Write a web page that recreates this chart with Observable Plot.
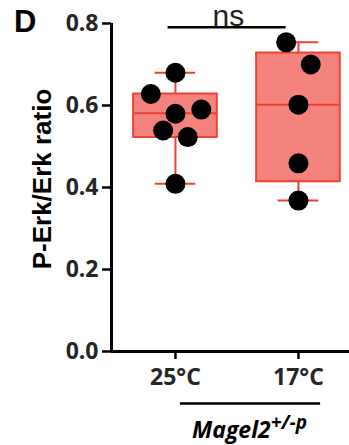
<!DOCTYPE html>
<html>
<head>
<meta charset="utf-8">
<script src="https://cdn.jsdelivr.net/npm/d3@7"></script>
<script src="https://cdn.jsdelivr.net/npm/@observablehq/plot@0.6"></script>
<style>
  html, body { margin: 0; padding: 0; background: #fff; }
  #chart svg [aria-label*="axis"] path { stroke-width: 2.5px; stroke: #000; }
</style>
</head>
<body>
<div id="chart"></div>
<script>
// ---- data ----
const categories = ["25°C", "17°C"];
const values25 = [0.680, 0.628, 0.580, 0.590, 0.539, 0.523, 0.409];
const jitter25 = [0, -0.2, 0, 0.21, -0.1, 0.1, 0];
const values17 = [0.754, 0.700, 0.602, 0.459, 0.368];
const jitter17 = [-0.1, 0.1, 0, 0, 0];
const boxLow    = [0.409, 0.368];
const boxQ1     = [0.522, 0.414];
const boxMedian = [0.581, 0.602];
const boxQ3     = [0.628, 0.728];
const boxHigh   = [0.680, 0.754];
const yTicks = [0, 0.2, 0.4, 0.6, 0.8];
const yLabel = "P-Erk/Erk ratio";
const sigLabel = "ns";
const panelLabel = "D";
const groupLabel = "Magel2";
const groupSup = "+/-p";

// ---- build tables ----
const points = [
  ...values25.map((v, i) => ({g: 1, x: 1 + jitter25[i], y: v})),
  ...values17.map((v, i) => ({g: 2, x: 2 + jitter17[i], y: v}))
];
const boxes = categories.map((c, i) => ({
  i: i + 1, lo: boxLow[i], q1: boxQ1[i], med: boxMedian[i], q3: boxQ3[i], hi: boxHigh[i]
}));

const boxHalf = 0.34, capHalf = 0.165;
const fillC = "#F4837D", strokeC = "#EE4035";

const plot = Plot.plot({
  width: 349,
  height: 445,
  marginLeft: 111,
  marginRight: 0,
  marginTop: 23,
  marginBottom: 94,
  style: {fontFamily: "Open Sans", fontSize: "23px", fontWeight: "bold", color: "#262626", background: "#fff", overflow: "visible"},
  x: {type: "linear", domain: [0.48, 2.415], ticks: [1, 2], tickFormat: d => categories[d - 1], tickSize: 8, tickPadding: 9, label: null},
  y: {domain: [0, 0.8], ticks: yTicks, tickFormat: d3.format(".1f"), tickSize: 9, tickPadding: 4, label: null},
  marks: [
    // axis lines
    Plot.ruleX([0.48], {y1: 0, y2: 0.8, stroke: "#000", strokeWidth: 3}),
    Plot.ruleY([0], {x1: 0.48, x2: 2.415, stroke: "#000", strokeWidth: 3}),
    // whiskers
    Plot.ruleX(boxes, {x: "i", y1: "q3", y2: "hi", stroke: strokeC, strokeWidth: 2}),
    Plot.ruleX(boxes, {x: "i", y1: "lo", y2: "q1", stroke: strokeC, strokeWidth: 2}),
    Plot.ruleY(boxes, {y: "hi", x1: d => d.i - capHalf, x2: d => d.i + capHalf, stroke: strokeC, strokeWidth: 2}),
    Plot.ruleY(boxes, {y: "lo", x1: d => d.i - capHalf, x2: d => d.i + capHalf, stroke: strokeC, strokeWidth: 2}),
    // boxes
    Plot.rect(boxes, {x1: d => d.i - boxHalf, x2: d => d.i + boxHalf, y1: "q1", y2: "q3", fill: fillC, stroke: strokeC, strokeWidth: 2}),
    Plot.ruleY(boxes, {y: "med", x1: d => d.i - boxHalf, x2: d => d.i + boxHalf, stroke: strokeC, strokeWidth: 2}),
    // points
    Plot.dot(points, {x: "x", y: "y", r: 10, fill: "#000", stroke: "none"}),
    // significance bracket
    Plot.ruleY([0.791], {x1: 0.94, x2: 1.9, stroke: "#000", strokeWidth: 2.5}),
    Plot.text([sigLabel], {x: 1.43, y: 0.8185, text: d => d, fontFamily: "Liberation Sans", fontWeight: "normal", fontSize: 30, fill: "#222", lineAnchor: "middle"}),
    // group underline
    Plot.ruleY([-0.127], {x1: 1.04, x2: 2.18, stroke: "#000", strokeWidth: 2.5})
  ]
});

document.getElementById("chart").appendChild(plot);

// annotation texts
const svg = d3.select(plot);
svg.append("text")
  .attr("x", 14).attr("y", 32)
  .attr("text-anchor", "start")
  .attr("font-family", "Liberation Sans").attr("font-weight", "bold").attr("font-size", 31)
  .attr("fill", "#000").text(panelLabel);
svg.append("text")
  .attr("transform", "translate(51,179) rotate(-90)")
  .attr("text-anchor", "middle")
  .attr("font-family", "Liberation Sans").attr("font-weight", "bold").attr("font-size", 26)
  .attr("fill", "#000").text(yLabel);
const g = svg.append("text")
  .attr("x", 192).attr("y", 438)
  .attr("text-anchor", "start")
  .attr("font-family", "Open Sans").attr("font-weight", "bold").attr("font-style", "italic").attr("font-size", 23)
  .attr("fill", "#000");
g.append("tspan").text(groupLabel);
g.append("tspan").attr("dy", -9).attr("font-size", 19).text(groupSup);
</script>
</body>
</html>
